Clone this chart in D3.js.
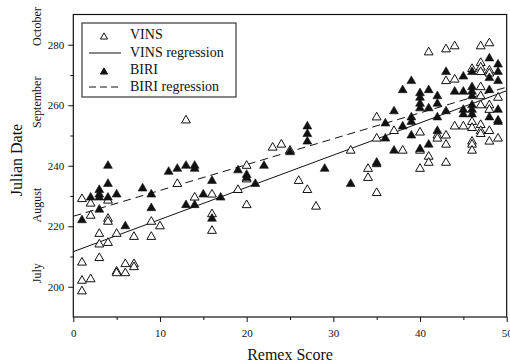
<!DOCTYPE html>
<html>
<head>
<meta charset="utf-8">
<script src="https://cdn.jsdelivr.net/npm/d3@7"></script>
<style>
    body { margin: 0; background: #ffffff; }
    svg text { font-family: "Liberation Serif", "Times New Roman", serif; fill: #111; }
</style>
</head>
<body>
<svg id="chart"></svg>
<script>
// [remex score, julian date]
const vinsPoints = [
    [1, 229], [1, 208], [1, 202], [1, 198.5],
    [2, 227.5], [2, 223.5], [2, 202.5],
    [3, 217.5], [3, 214], [3, 209.5],
    [4, 228.5], [4, 222.5], [4, 221.5], [4, 214.5],
    [5, 217.5], [5, 205], [5, 204.5],
    [6, 207.5], [6, 204.5],
    [7, 216.5], [7, 207.5], [7, 206.5],
    [9, 221.5], [9, 216.5], [10, 220],
    [12, 234], [13, 255], [14, 229.5],
    [16, 230.5], [16, 224], [16, 218.5],
    [19, 232], [20, 240], [20, 235.5], [20, 227],
    [23, 246], [24, 247], [25, 245], [26, 235], [27, 232], [28, 226.5],
    [32, 245], [34, 239], [34, 236],
    [35, 256], [35, 249], [35, 231], [37, 251.5], [38, 245],
    [40, 251], [40, 245], [40, 239],
    [41, 277.5], [41, 243], [41, 241],
    [42, 250], [42, 249],
    [43, 278.5], [43, 268], [43, 250], [43, 247], [43, 241],
    [44, 279.5], [44, 268.5], [44, 253], [45, 253],
    [46, 272], [46, 254.5], [46, 252.5], [46, 248], [46, 247], [46, 245],
    [47, 279.5], [47, 274], [47, 272.5], [47, 271], [47, 266], [47, 263], [47, 260],
    [47, 253.5], [47, 251.5], [47, 250.5],
    [48, 280.5], [48, 271.5], [48, 270.5], [48, 260], [48, 258.5], [48, 251.5], [48, 248],
    [49, 262.5], [49, 249]
];
const biriPoints = [
    [1, 222], [2, 229.5], [3, 232], [3, 230.5], [3, 229.5], [3, 225.5],
    [4, 240], [4, 234], [4, 229.5], [5, 230.5], [6, 220], [8, 232.5], [9, 230.5], [9, 226],
    [11, 238], [12, 239], [13, 240], [13, 227], [14, 240], [14, 239], [14, 227], [15, 230.5],
    [16, 235], [16, 222.5], [17, 229.5], [19, 238.5], [20, 237], [20, 236], [21, 234], [22, 240],
    [25, 244.5], [27, 253], [27, 250.5], [27, 248], [29, 239], [32, 234], [35, 241], [35, 240.5],
    [36, 254], [36, 249], [37, 258], [37, 245], [38, 265], [38, 253],
    [39, 268], [39, 256], [39, 254.5], [39, 250],
    [40, 264], [40, 262.5], [40, 260.5], [40, 259], [40, 245.5],
    [41, 265], [41, 259], [41, 247],
    [42, 263], [42, 260.5], [42, 256], [42, 251.5],
    [43, 271], [43, 258], [44, 264.5],
    [45, 269.5], [45, 264.5], [45, 258.5], [45, 257],
    [46, 271], [46, 266], [46, 264.5], [46, 263], [46, 260], [46, 258.5], [46, 257],
    [48, 275.5], [48, 269], [48, 265], [48, 256],
    [49, 273.5], [49, 271], [49, 268], [49, 258.5], [49, 255], [49, 254.5]
];
// regression lines, value at score 0 and score 50
const fitScores = [0, 50];
const vinsFit = [211.6, 264.8];
const biriFit = [223.3, 266];

const xTicks = [0, 10, 20, 30, 40, 50];
const xMinorTicks = [5, 15, 25, 35, 45];
const yTicks = [200, 220, 240, 260, 280];
const yMinorTicks = [210, 230, 250, 270];
const months = ["July", "August", "September", "October"];
const monthDays = [204.5, 227, 261, 286];
const legendLabels = ["VINS", "VINS regression", "BIRI", "BIRI regression"];

const width = 510, height = 364;
const svg = d3.select("#chart").attr("width", width).attr("height", height);

const x = d3.scaleLinear().domain([0, 50]).range([73.3, 506.7]);
const y = d3.scaleLinear().domain([190, 290]).range([317, 14.5]);

// frame
svg.append("rect")
    .attr("x", x(0)).attr("y", y(290))
    .attr("width", x(50) - x(0)).attr("height", y(190) - y(290))
    .attr("fill", "none").attr("stroke", "#111").attr("stroke-width", 1.2);

// axes
svg.append("g").attr("transform", `translate(0,${y(190)})`)
    .call(d3.axisBottom(x).tickValues(xTicks).tickSize(5).tickPadding(7));
svg.append("g").attr("transform", `translate(0,${y(190)})`)
    .call(d3.axisBottom(x).tickValues(xMinorTicks).tickSize(3).tickFormat(""));
svg.append("g").attr("transform", `translate(${x(0)},0)`)
    .call(d3.axisLeft(y).tickValues(yTicks).tickSize(5).tickPadding(4));
svg.append("g").attr("transform", `translate(${x(0)},0)`)
    .call(d3.axisLeft(y).tickValues(yMinorTicks).tickSize(3).tickFormat(""));
svg.selectAll(".domain").remove();
svg.selectAll(".tick line").attr("stroke", "#111");
svg.selectAll(".tick text")
    .style("font-family", "'Liberation Serif', serif")
    .style("font-size", "11px").attr("fill", "#111");

// month labels
svg.append("g").selectAll("text")
    .data(months)
    .enter()
    .append("text")
    .attr("transform", (d, i) => `translate(41,${y(monthDays[i])}) rotate(-90)`)
    .attr("text-anchor", "middle")
    .style("font-size", "12px")
    .text(d => d);

// axis titles
svg.append("text")
    .attr("transform", `translate(22,${160}) rotate(-90)`)
    .attr("text-anchor", "middle")
    .style("font-size", "16px")
    .text("Julian Date");
svg.append("text")
    .attr("x", 290).attr("y", 360)
    .attr("text-anchor", "middle")
    .style("font-size", "16px")
    .text("Remex Score");

// regression lines
const line = d3.line().x(d => x(d[0])).y(d => y(d[1]));
svg.append("path")
    .datum(fitScores.map((s, i) => [s, vinsFit[i]]))
    .attr("d", line)
    .attr("fill", "none").attr("stroke", "#111").attr("stroke-width", 1);
svg.append("path")
    .datum(fitScores.map((s, i) => [s, biriFit[i]]))
    .attr("d", line)
    .attr("fill", "none").attr("stroke", "#111").attr("stroke-width", 1)
    .attr("stroke-dasharray", "8,5");

const tri = d3.symbol().type(d3.symbolTriangle).size(34);

svg.append("g").selectAll("path")
    .data(vinsPoints)
    .enter()
    .append("path")
    .attr("d", tri)
    .attr("transform", d => `translate(${x(d[0])},${y(d[1])})`)
    .attr("fill", "#fff").attr("stroke", "#111").attr("stroke-width", 1);

svg.append("g").selectAll("path")
    .data(biriPoints)
    .enter()
    .append("path")
    .attr("d", tri)
    .attr("transform", d => `translate(${x(d[0])},${y(d[1])})`)
    .attr("fill", "#111").attr("stroke", "#111").attr("stroke-width", 0.6);

// legend
const legend = svg.append("g");
legend.append("rect")
    .attr("x", 82).attr("y", 23).attr("width", 154).attr("height", 74)
    .attr("fill", "#fff").attr("stroke", "#111").attr("stroke-width", 1);
const rowY = [38, 56, 73, 90];
legendLabels.forEach((label, i) => {
    if (i === 0 || i === 2) {
        legend.append("path")
            .attr("d", d3.symbol().type(d3.symbolTriangle).size(22))
            .attr("transform", `translate(104,${rowY[i] - 1})`)
            .attr("fill", i === 0 ? "#fff" : "#111")
            .attr("stroke", "#111").attr("stroke-width", 1);
    } else {
        legend.append("line")
            .attr("x1", 89).attr("x2", 121)
            .attr("y1", rowY[i] - 3).attr("y2", rowY[i] - 3)
            .attr("stroke", "#111").attr("stroke-width", 1)
            .attr("stroke-dasharray", i === 3 ? "7,4" : null);
    }
    legend.append("text")
        .attr("x", 130).attr("y", rowY[i] + 1)
        .style("font-size", "14px")
        .text(label);
});
</script>
</body>
</html>
